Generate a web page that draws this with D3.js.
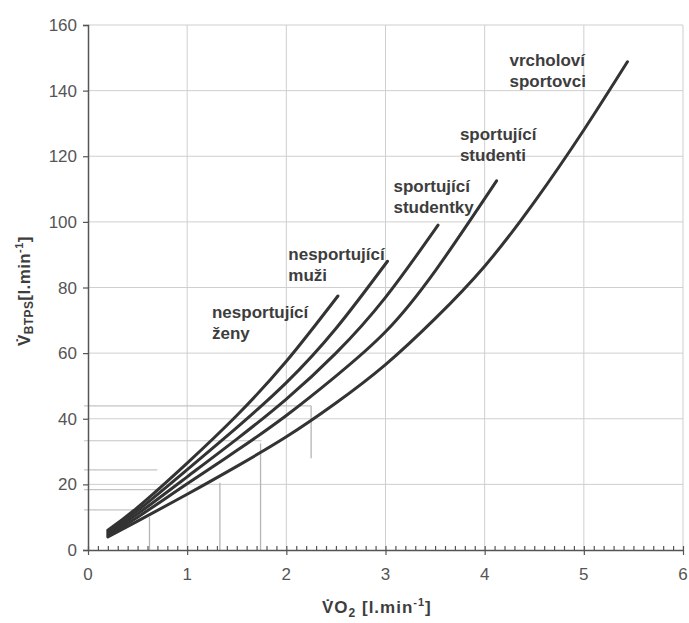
<!DOCTYPE html>
<html>
<head>
<meta charset="utf-8">
<script src="https://cdn.jsdelivr.net/npm/d3@7"></script>
<style>
  body { margin: 0; background: #fff; }
  text { font-family: "Liberation Sans", Arial, sans-serif; }
  .tick-label { font-size: 17px; fill: #555; }
  .curve-label { font-size: 17px; font-weight: bold; fill: #3d3d3d; }
  .axis-title { font-size: 17px; font-weight: bold; fill: #3d3d3d; }
</style>
</head>
<body>
<script>
let width = 689;
let height = 623;

// VO2 [l/min] vs VBTPS [l/min]
let zenyX = [0.2, 0.5, 1, 1.5, 2, 2.52];
let zenyY = [6, 13, 26.5, 41, 57.5, 77.4];
let muziX = [0.2, 0.5, 1, 1.5, 2, 2.5, 3.02];
let muziY = [5.5, 12, 24.5, 37.3, 51, 67.5, 88];
let studentkyX = [0.2, 0.5, 1, 1.5, 2, 2.5, 3, 3.53];
let studentkyY = [5, 11, 22.3, 33.8, 46, 60, 77, 99];
let studentiX = [0.2, 0.5, 1, 1.5, 2, 2.5, 3, 3.5, 4.12];
let studentiY = [4.5, 10, 20.2, 30.3, 41, 53, 66.5, 85, 112.5];
let vrcholoviX = [0.2, 0.5, 1, 1.5, 2, 2.5, 3, 3.5, 4, 4.5, 5, 5.44];
let vrcholoviY = [4, 8.8, 17, 25.5, 34.5, 44.8, 56.5, 70.5, 86.5, 106, 128, 148.8];

let seriesNames = [["nesportující", "ženy"], ["nesportující", "muži"], ["sportující", "studentky"],
    ["sportující", "studenti"], ["vrcholoví", "sportovci"]];
// where each name sits, in data units (VO2, VBTPS)
let labelX = [1.25, 2.02, 3.08, 3.75, 4.25];
let labelY = [70.8, 88.5, 109, 125, 147.5];

let xTicks = [0, 1, 2, 3, 4, 5, 6];
let yTicks = [0, 20, 40, 60, 80, 100, 120, 140, 160];

// faint hand-drawn reading lines on the scan
let readV = [[0.62, 0, 10], [1.33, 0, 20.5], [1.74, 0, 32.5], [2.25, 28, 44]];
let readH = [[43.9, 0, 2.25], [33.3, 0, 1.75], [24.4, 0, 0.7], [18.4, 0, 0.75], [12.2, 0, 0.5]];

let svg = d3.select("body").append("svg")
    .attr("width", width)
    .attr("height", height);

let x = d3.scaleLinear().domain([0, 6]).range([88, 683]);
let y = d3.scaleLinear().domain([0, 160]).range([550, 25]);

// grid
svg.append("g").selectAll("line")
    .data(xTicks.slice(1))
    .join("line")
    .attr("x1", d => x(d)).attr("x2", d => x(d))
    .attr("y1", y(0)).attr("y2", y(160))
    .attr("stroke", "#cfcfcf")
    .attr("stroke-width", 1);

svg.append("g").selectAll("line")
    .data(yTicks.slice(1))
    .join("line")
    .attr("x1", x(0)).attr("x2", x(6))
    .attr("y1", d => y(d)).attr("y2", d => y(d))
    .attr("stroke", "#cfcfcf")
    .attr("stroke-width", 1);

// reading lines
svg.append("g").selectAll("line")
    .data(readV)
    .join("line")
    .attr("x1", d => x(d[0])).attr("x2", d => x(d[0]))
    .attr("y1", d => y(d[1])).attr("y2", d => y(d[2]))
    .attr("stroke", "#b5b5b5")
    .attr("stroke-width", 1.3);

svg.append("g").selectAll("line")
    .data(readH)
    .join("line")
    .attr("x1", d => x(d[1]) - 4).attr("x2", d => x(d[2]))
    .attr("y1", d => y(d[0])).attr("y2", d => y(d[0]))
    .attr("stroke", "#c4c4c4")
    .attr("stroke-width", 1.2);

// axes
let xAxis = d3.axisBottom(x)
    .tickValues(d3.range(0, 60.5, 1).map(d => d / 10))
    .tickSize(0)
    .tickFormat("");

let gx = svg.append("g")
    .attr("transform", "translate(0," + y(0) + ")")
    .call(xAxis);
gx.select(".domain").attr("stroke", "#555").attr("stroke-width", 1.5);
gx.selectAll(".tick line")
    .attr("stroke", "#555")
    .attr("stroke-width", 1.2)
    .attr("y1", -4)
    .attr("y2", d => Math.abs(d - Math.round(d)) < 1e-6 ? 5 : 0);

svg.append("g").selectAll("text")
    .data(xTicks)
    .join("text")
    .attr("class", "tick-label")
    .attr("x", d => x(d))
    .attr("y", y(0) + 30)
    .attr("text-anchor", "middle")
    .text(d => d);

let yAxis = d3.axisLeft(y)
    .tickValues(yTicks)
    .tickSize(5)
    .tickFormat("");

let gy = svg.append("g")
    .attr("transform", "translate(" + x(0) + ",0)")
    .call(yAxis);
gy.select(".domain").attr("stroke", "#555").attr("stroke-width", 1.5);
gy.selectAll(".tick line").attr("stroke", "#555").attr("stroke-width", 1.2);

svg.append("g").selectAll("text")
    .data(yTicks)
    .join("text")
    .attr("class", "tick-label")
    .attr("x", x(0) - 11)
    .attr("y", d => y(d) + 6)
    .attr("text-anchor", "end")
    .text(d => d);

// curves
let series = [
    d3.zip(zenyX, zenyY),
    d3.zip(muziX, muziY),
    d3.zip(studentkyX, studentkyY),
    d3.zip(studentiX, studentiY),
    d3.zip(vrcholoviX, vrcholoviY)
];

let line = d3.line()
    .x(d => x(d[0]))
    .y(d => y(d[1]))
    .curve(d3.curveNatural);

svg.append("g").selectAll("path")
    .data(series)
    .join("path")
    .attr("d", line)
    .attr("fill", "none")
    .attr("stroke", "#333")
    .attr("stroke-width", 3)
    .attr("stroke-linecap", "round");

// curve names
for (let i = 0; i < seriesNames.length; i++) {
    let t = svg.append("text")
        .attr("class", "curve-label")
        .attr("x", x(labelX[i]))
        .attr("y", y(labelY[i]));
    t.append("tspan").text(seriesNames[i][0]);
    t.append("tspan")
        .attr("x", x(labelX[i]))
        .attr("dy", 21)
        .text(seriesNames[i][1]);
}

// axis titles
let xt = svg.append("text")
    .attr("class", "axis-title")
    .attr("x", 322)
    .attr("y", 613)
    .attr("letter-spacing", 1);
xt.append("tspan").text("V\u0307O");
xt.append("tspan").attr("font-size", 12).attr("dy", 4).text("2");
xt.append("tspan").attr("dy", -4).text(" [l.min");
xt.append("tspan").attr("font-size", 11).attr("dy", -7).text("-1");
xt.append("tspan").attr("dy", 7).text("]");

let yt = svg.append("text")
    .attr("class", "axis-title")
    .attr("transform", "translate(30,346) rotate(-90)")
    .attr("letter-spacing", 0.4);
yt.append("tspan").text("V\u0307");
yt.append("tspan").attr("font-size", 12).attr("dy", 3).text("BTPS");
yt.append("tspan").attr("dy", -3).text("[l.min");
yt.append("tspan").attr("font-size", 11).attr("dy", -7).text("-1");
yt.append("tspan").attr("dy", 7).text("]");
</script>
</body>
</html>
